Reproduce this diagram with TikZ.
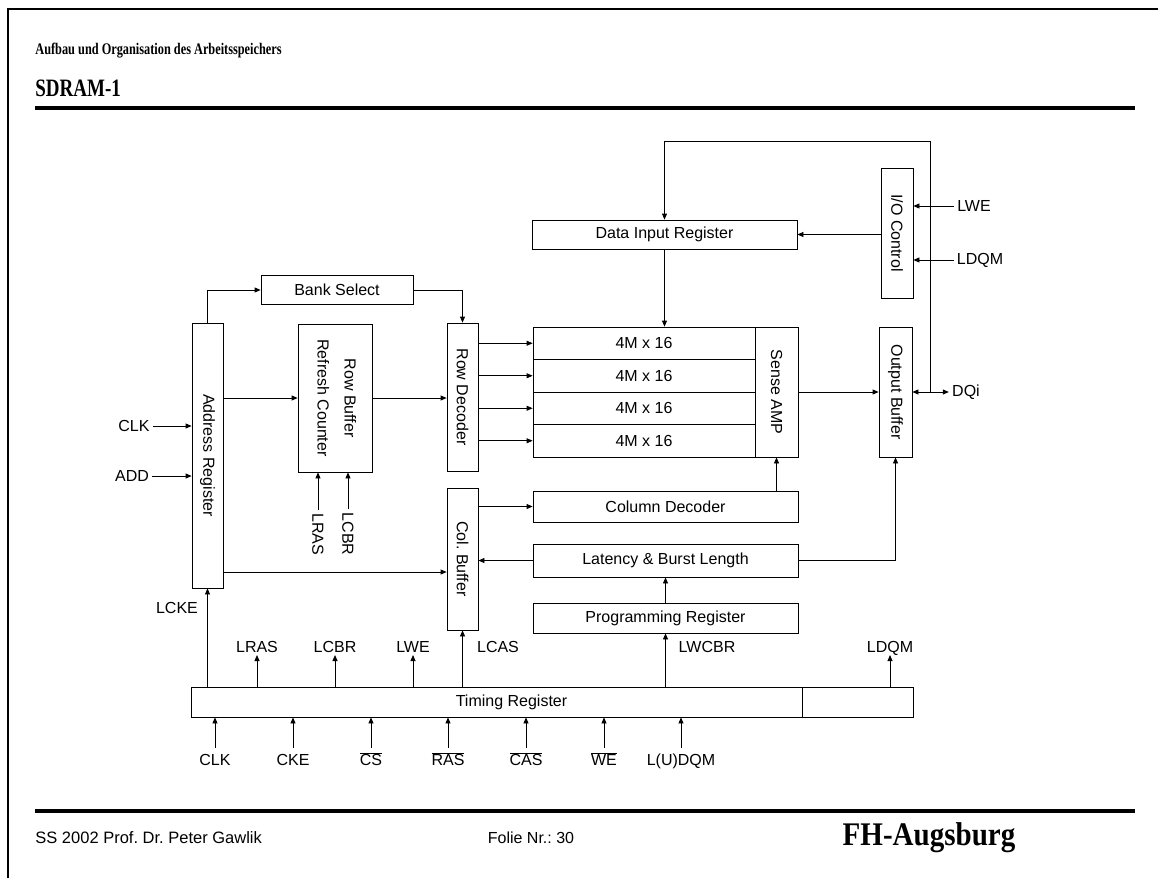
\documentclass[tikz,border=0pt]{standalone}
\usepackage{fontspec}
\setmainfont{Liberation Sans}
\newfontfamily\slideserif[FakeStretch=0.76]{Liberation Serif}
\newfontfamily\slidebrand[FakeStretch=0.88]{Liberation Serif}
\usetikzlibrary{arrows.meta}
\newcommand{\rottext}[1]{\rotatebox{-90}{#1}}
\frenchspacing

\begin{document}
\begin{tikzpicture}[x=1pt,y=-1pt,line width=0.8pt,
  font=\fontsize{16}{19}\selectfont,
  >={Triangle[length=6pt,width=5pt]},
  blk/.style 2 args={draw,inner sep=0pt,minimum width=#1,minimum height=#2},
  toplbl/.style={anchor=south,inner sep=2pt,text depth=0pt},
  botlbl/.style={anchor=north,inner sep=2pt,text height=15pt},
  hdr/.style={anchor=west,inner sep=0pt}]
  \useasboundingbox (0,0) rectangle (1158,878);
  % slide frame
  \draw[line width=2pt] (8,878) -- (8,9) -- (1158,9);
  \draw[line width=4pt] (35,108) -- (1135,108);
  \draw[line width=4pt] (35,811) -- (1135,811);
  \node[hdr,font=\slideserif\bfseries\fontsize{16.2}{19}\selectfont] (subj) at (35,51) {Aufbau und Organisation des Arbeitsspeichers};
  \node[hdr,font=\slideserif\bfseries\fontsize{25}{29}\selectfont] (ttl) at (35,88) {SDRAM-1};
  \node[hdr,font=\fontsize{16.5}{19}\selectfont] (auth) at (35,838) {SS 2002 Prof. Dr. Peter Gawlik};
  \node[font=\fontsize{16}{19}\selectfont] (folie) at (531,838) {Folie Nr.: 30};
  \node[font=\slidebrand\bfseries\fontsize{33}{37}\selectfont] (fh) at (929,838) {FH-Augsburg};

  % blocks
  \node[blk={265pt}{29pt}] (dir) at (664.5,234.5) {Data Input Register};
  \node[blk={32pt}{130pt}] (io) at (897,233) {\rottext{I/O Control}};
  \node[blk={152pt}{29pt}] (bank) at (337,290) {Bank Select};
  \node[blk={31pt}{265pt}] (addr) at (207.5,455.5) {\rottext{Address Register}};
  \node[blk={74pt}{148pt}] (rbrc) at (335,398) {\rottext{\begin{tabular}{@{}c@{}}Row Buffer\\[8pt]Refresh Counter\end{tabular}}};
  \node[blk={31pt}{148pt}] (rowdec) at (462.5,397) {\rottext{Row Decoder}};
  \foreach \i/\y in {1/343.25,2/375.75,3/408.25,4/440.75}
    \node[blk={222pt}{32.5pt}] (m\i) at (644,\y) {4M x 16};
  \node[blk={43pt}{130pt}] (sa) at (776.5,392) {\rottext{Sense AMP}};
  \node[blk={33pt}{130pt}] (outbuf) at (895.5,392) {\rottext{Output Buffer}};
  \node[blk={265pt}{31pt}] (coldec) at (665.5,506.5) {Column Decoder};
  \node[blk={31pt}{142pt}] (colbuf) at (462.5,559) {\rottext{Col. Buffer}};
  \node[blk={265pt}{33pt}] (lat) at (665.5,560.5) {Latency \& Burst Length};
  \node[blk={265pt}{30pt}] (prog) at (665.5,618) {Programming Register};
  \node[blk={611pt}{30pt},label={[xshift=15pt]center:Timing Register}] (timing) at (496.5,702) {};
  \node[blk={111pt}{30pt}] (tright) at (857.5,702) {};

  % data path
  \coordinate (jn) at (930,392);
  \coordinate (fb) at (930,141);
  \draw[->] (jn) -- (fb) -| (dir.north);
  \draw[->] (dir.south) -- (dir.south |- m1.north);
  \draw[->] (io.west |- dir.east) -- (dir.east);
  \node[inner sep=3pt] (dq) at (966,392) {DQi};
  \draw[->] (jn) -- (outbuf.east |- jn);
  \draw[->] (jn) -- (dq.west);
  \node[inner sep=3pt] (lwe) at (974,206) {LWE};
  \node[inner sep=3pt] (ldqmio) at (980,260) {LDQM};
  \draw[->] (lwe.west) -- (io.east |- lwe.west);
  \draw[->] (ldqmio.west) -- (io.east |- ldqmio.west);

  % address path
  \node[inner sep=3pt] (clk) at (134,426) {CLK};
  \node[inner sep=3pt] (add) at (132,476) {ADD};
  \draw[->] (clk.east) -- (addr.west |- clk.east);
  \draw[->] (add.east) -- (addr.west |- add.east);
  \draw[->] (addr.north) |- (bank.west);
  \draw[->] (bank.east) -| (rowdec.north);
  \draw[->] (addr.east |- rbrc.west) -- (rbrc.west);
  \draw[->] (rbrc.east) -- (rowdec.west |- rbrc.east);
  \draw[->] (addr.east |- 0,572) -- (colbuf.west |- 0,572);
  \foreach \i in {1,...,4}
    \draw[->] (rowdec.east |- m\i.west) -- (m\i.west);
  \draw[->] (sa.east) -- (outbuf.west |- sa.east);
  \draw[->] (colbuf.east |- coldec.west) -- (coldec.west);
  \draw[->] (sa.south |- coldec.north) -- (sa.south);
  \draw[->] (lat.west) -- (colbuf.east |- lat.west);
  \draw[->] (lat.east) -| (outbuf.south);
  \draw[->] (prog.north) -- (lat.south);

  % refresh counter inputs
  \node[inner sep=3pt] (lras) at (318,534) {\rottext{LRAS}};
  \node[inner sep=3pt] (lcbr) at (348,534) {\rottext{LCBR}};
  \draw[->] (lras.north) -- (rbrc.south -| lras.north);
  \draw[->] (lcbr.north) -- (rbrc.south -| lcbr.north);

  % timing register outputs
  \node (lcke) at (177,608) {LCKE};
  \draw[->] (timing.north -| addr.south) -- (addr.south);
  \foreach \x/\t/\n in {257/LRAS/tlras,335/LCBR/tlcbr,413/LWE/tlwe}{
    \node[toplbl] (\n) at (\x,655) {\t};
    \draw[->] (timing.north -| \n.south) -- (\n.south);
  }
  \node[toplbl] (lcas) at (498,655) {LCAS};
  \draw[->] (timing.north -| colbuf.south) -- (colbuf.south);
  \node[toplbl] (lwcbr) at (707,655) {LWCBR};
  \draw[->] (timing.north -| prog.south) -- (prog.south);
  \node[toplbl] (ldqm) at (890,655) {LDQM};
  \draw[->] (tright.north -| ldqm.south) -- (ldqm.south);

  % timing register inputs
  \foreach \x/\t/\n in {215/CLK/iclk,293/CKE/icke,371/\(\overline{\mbox{CS}}\)/ics,
      448/\(\overline{\mbox{RAS}}\)/iras,526/\(\overline{\mbox{CAS}}\)/icas,
      604/\(\overline{\mbox{WE}}\)/iwe,681/L(U)DQM/idqm}{
    \node[botlbl] (\n) at (\x,748) {\t};
    \draw[->] (\n.north) -- (timing.south -| \n.north);
  }
\end{tikzpicture}
\end{document}
